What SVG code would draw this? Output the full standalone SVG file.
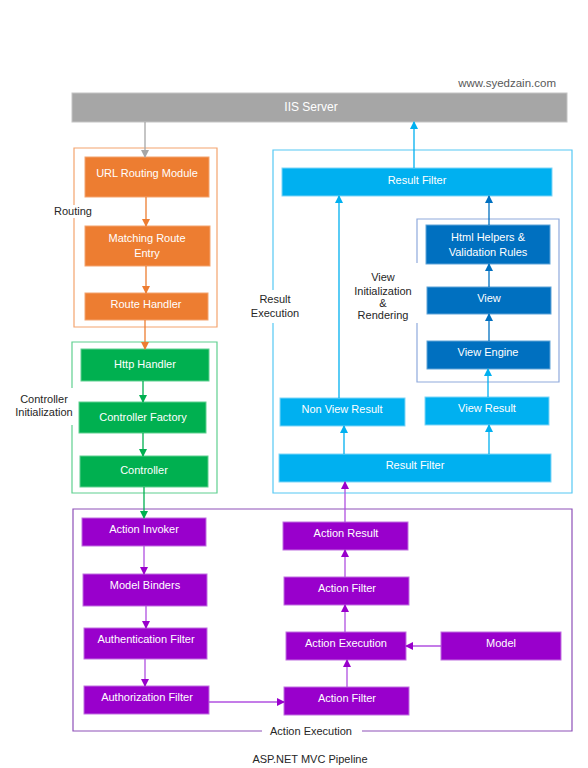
<svg xmlns="http://www.w3.org/2000/svg" width="588" height="768" viewBox="0 0 588 768">
<defs>
<style>
text{font-family:"Liberation Sans",Arial,sans-serif;font-size:11px;text-anchor:middle}
.w{fill:#ffffff}
.lbl{fill:#262626}
.or{fill:#ed7d31;stroke:#f4a46e;stroke-width:1}
.gr{fill:#00b050;stroke:#5fd08f;stroke-width:1}
.bl{fill:#00b0f0;stroke:#7fd5f7;stroke-width:1}
.db{fill:#0070c0;stroke:#5fa3d8;stroke-width:1}
.pu{fill:#9900cc;stroke:#c070e0;stroke-width:1}
.frame{fill:none;stroke-width:1.2}
.c{fill:none;stroke-width:1.3}
</style>
<marker id="ag" markerUnits="userSpaceOnUse" markerWidth="8" markerHeight="8" refX="7" refY="4" orient="auto"><path d="M0,0 L8,4 L0,8 z" fill="#a6a6a6"/></marker>
<marker id="ao" markerUnits="userSpaceOnUse" markerWidth="8" markerHeight="8" refX="7" refY="4" orient="auto"><path d="M0,0 L8,4 L0,8 z" fill="#ed7d31"/></marker>
<marker id="agr" markerUnits="userSpaceOnUse" markerWidth="8" markerHeight="8" refX="7" refY="4" orient="auto"><path d="M0,0 L8,4 L0,8 z" fill="#00b050"/></marker>
<marker id="ab" markerUnits="userSpaceOnUse" markerWidth="8" markerHeight="8" refX="7" refY="4" orient="auto"><path d="M0,0 L8,4 L0,8 z" fill="#00b0f0"/></marker>
<marker id="adb" markerUnits="userSpaceOnUse" markerWidth="8" markerHeight="8" refX="7" refY="4" orient="auto"><path d="M0,0 L8,4 L0,8 z" fill="#0070c0"/></marker>
<marker id="ap" markerUnits="userSpaceOnUse" markerWidth="8" markerHeight="8" refX="7" refY="4" orient="auto"><path d="M0,0 L8,4 L0,8 z" fill="#9900cc"/></marker>
</defs>
<rect width="588" height="768" fill="#ffffff"/>

<text x="556" y="87" style="text-anchor:end;font-size:11.5px" fill="#595959">www.syedzain.com</text>

<!-- frames -->
<g id="frames">
<path class="frame" stroke="#f4a46e" d="M74,205 V148 H217 V327 H74 V218"/>
<text class="lbl" x="73" y="215">Routing</text>
<path class="frame" stroke="#5fd08f" d="M72,388 V342 H217 V493 H72 V425"/>
<text class="lbl" x="44" y="403">Controller</text>
<text class="lbl" x="44" y="416">Initialization</text>
<path class="frame" stroke="#55c8f4" d="M273,290 V150 H572 V493 H273 V323"/>
<text class="lbl" x="275" y="303">Result</text>
<text class="lbl" x="275" y="317">Execution</text>
<path class="frame" stroke="#8faadc" d="M417,263 V219 H559 V382 H417 V323"/>
<text class="lbl" x="383" y="281">View</text>
<text class="lbl" x="383" y="295">Initialization</text>
<text class="lbl" x="383" y="307">&amp;</text>
<text class="lbl" x="383" y="319">Rendering</text>
<path class="frame" stroke="#8e50b8" d="M262,731 H73 V509 H572 V731 H362"/>
<text class="lbl" x="311" y="735">Action Execution</text>
</g>

<g id="iis"><rect x="72" y="93" width="495" height="29" fill="#a6a6a6" stroke="#c4c4c4"/><text class="w" x="311" y="111" style="font-size:12px">IIS Server</text></g>

<g id="url-routing"><rect class="or" x="85" y="157" width="124" height="40"/><text class="w" x="147" y="177">URL Routing Module</text></g>
<g id="matching-route"><rect class="or" x="85" y="226" width="125" height="40"/><text class="w" x="147" y="242">Matching Route</text><text class="w" x="147" y="257">Entry</text></g>
<g id="route-handler"><rect class="or" x="85" y="293" width="123" height="27"/><text class="w" x="146" y="308">Route Handler</text></g>

<g id="http-handler"><rect class="gr" x="81" y="349" width="128" height="32"/><text class="w" x="145" y="368">Http Handler</text></g>
<g id="controller-factory"><rect class="gr" x="79" y="402" width="127" height="31"/><text class="w" x="143" y="421">Controller Factory</text></g>
<g id="controller"><rect class="gr" x="80" y="456" width="128" height="31"/><text class="w" x="144" y="474">Controller</text></g>

<g id="result-filter-top"><rect class="bl" x="282" y="168" width="270" height="28"/><text class="w" x="417" y="184">Result Filter</text></g>
<g id="html-helpers"><rect class="db" x="426" y="225" width="124" height="39"/><text class="w" x="488" y="241">Html Helpers &amp;</text><text class="w" x="488" y="256">Validation Rules</text></g>
<g id="view"><rect class="db" x="427" y="287" width="124" height="27"/><text class="w" x="489" y="302">View</text></g>
<g id="view-engine"><rect class="db" x="427" y="341" width="123" height="28"/><text class="w" x="488" y="356">View Engine</text></g>
<g id="non-view-result"><rect class="bl" x="280" y="398" width="125" height="28"/><text class="w" x="342" y="413">Non View Result</text></g>
<g id="view-result"><rect class="bl" x="425" y="397" width="124" height="28"/><text class="w" x="487" y="412">View Result</text></g>
<g id="result-filter-bottom"><rect class="bl" x="279" y="454" width="272" height="28"/><text class="w" x="415" y="469">Result Filter</text></g>

<g id="action-invoker"><rect class="pu" x="82" y="518" width="124" height="28"/><text class="w" x="144" y="533">Action Invoker</text></g>
<g id="model-binders"><rect class="pu" x="83" y="574" width="124" height="32"/><text class="w" x="145" y="589">Model Binders</text></g>
<g id="authentication-filter"><rect class="pu" x="84" y="628" width="123" height="31"/><text class="w" x="146" y="643">Authentication Filter</text></g>
<g id="authorization-filter"><rect class="pu" x="84" y="686" width="125" height="28"/><text class="w" x="147" y="701">Authorization Filter</text></g>
<g id="action-result"><rect class="pu" x="283" y="522" width="125" height="28"/><text class="w" x="346" y="537">Action Result</text></g>
<g id="action-filter-top"><rect class="pu" x="284" y="577" width="125" height="28"/><text class="w" x="347" y="592">Action Filter</text></g>
<g id="action-execution"><rect class="pu" x="286" y="632" width="120" height="28"/><text class="w" x="346" y="647">Action Execution</text></g>
<g id="model"><rect class="pu" x="441" y="632" width="120" height="28"/><text class="w" x="501" y="647">Model</text></g>
<g id="action-filter-bottom"><rect class="pu" x="284" y="687" width="125" height="28"/><text class="w" x="347" y="702">Action Filter</text></g>

<g id="connectors">
<path class="c" stroke="#a6a6a6" marker-end="url(#ag)" d="M145,122 V157"/>
<path class="c" stroke="#ed7d31" marker-end="url(#ao)" d="M146,197 V226"/>
<path class="c" stroke="#ed7d31" marker-end="url(#ao)" d="M146,266 V293"/>
<path class="c" stroke="#ed7d31" marker-end="url(#ao)" d="M145,320 V349"/>
<path class="c" stroke="#00b050" marker-end="url(#agr)" d="M143,381 V402"/>
<path class="c" stroke="#00b050" marker-end="url(#agr)" d="M143,433 V456"/>
<path class="c" stroke="#00b050" marker-end="url(#agr)" d="M144,487 V518"/>
<path class="c" stroke="#b050e0" marker-end="url(#ap)" d="M144,546 V574"/>
<path class="c" stroke="#b050e0" marker-end="url(#ap)" d="M146,606 V628"/>
<path class="c" stroke="#b050e0" marker-end="url(#ap)" d="M145,659 V686"/>
<path class="c" stroke="#b050e0" marker-end="url(#ap)" d="M209,702 H284"/>
<path class="c" stroke="#b050e0" marker-end="url(#ap)" d="M347,687 V660"/>
<path class="c" stroke="#b050e0" marker-end="url(#ap)" d="M441,646 H406"/>
<path class="c" stroke="#b050e0" marker-end="url(#ap)" d="M345,632 V605"/>
<path class="c" stroke="#b050e0" marker-end="url(#ap)" d="M345,577 V550"/>
<path class="c" stroke="#b050e0" marker-end="url(#ap)" d="M345,522 V482"/>
<path class="c" stroke="#00b0f0" marker-end="url(#ab)" d="M344,454 V426"/>
<path class="c" stroke="#00b0f0" marker-end="url(#ab)" d="M489,454 V425"/>
<path class="c" stroke="#00b0f0" marker-end="url(#ab)" d="M488,397 V369"/>
<path class="c" stroke="#0070c0" marker-end="url(#adb)" d="M489,341 V314"/>
<path class="c" stroke="#0070c0" marker-end="url(#adb)" d="M489,287 V264"/>
<path class="c" stroke="#0070c0" marker-end="url(#adb)" d="M489,225 V196"/>
<path class="c" stroke="#00b0f0" marker-end="url(#ab)" d="M339,398 V196"/>
<path class="c" stroke="#00b0f0" marker-end="url(#ab)" d="M414,168 V122"/>
</g>

<text class="lbl" x="310" y="763">ASP.NET MVC Pipeline</text>
</svg>
